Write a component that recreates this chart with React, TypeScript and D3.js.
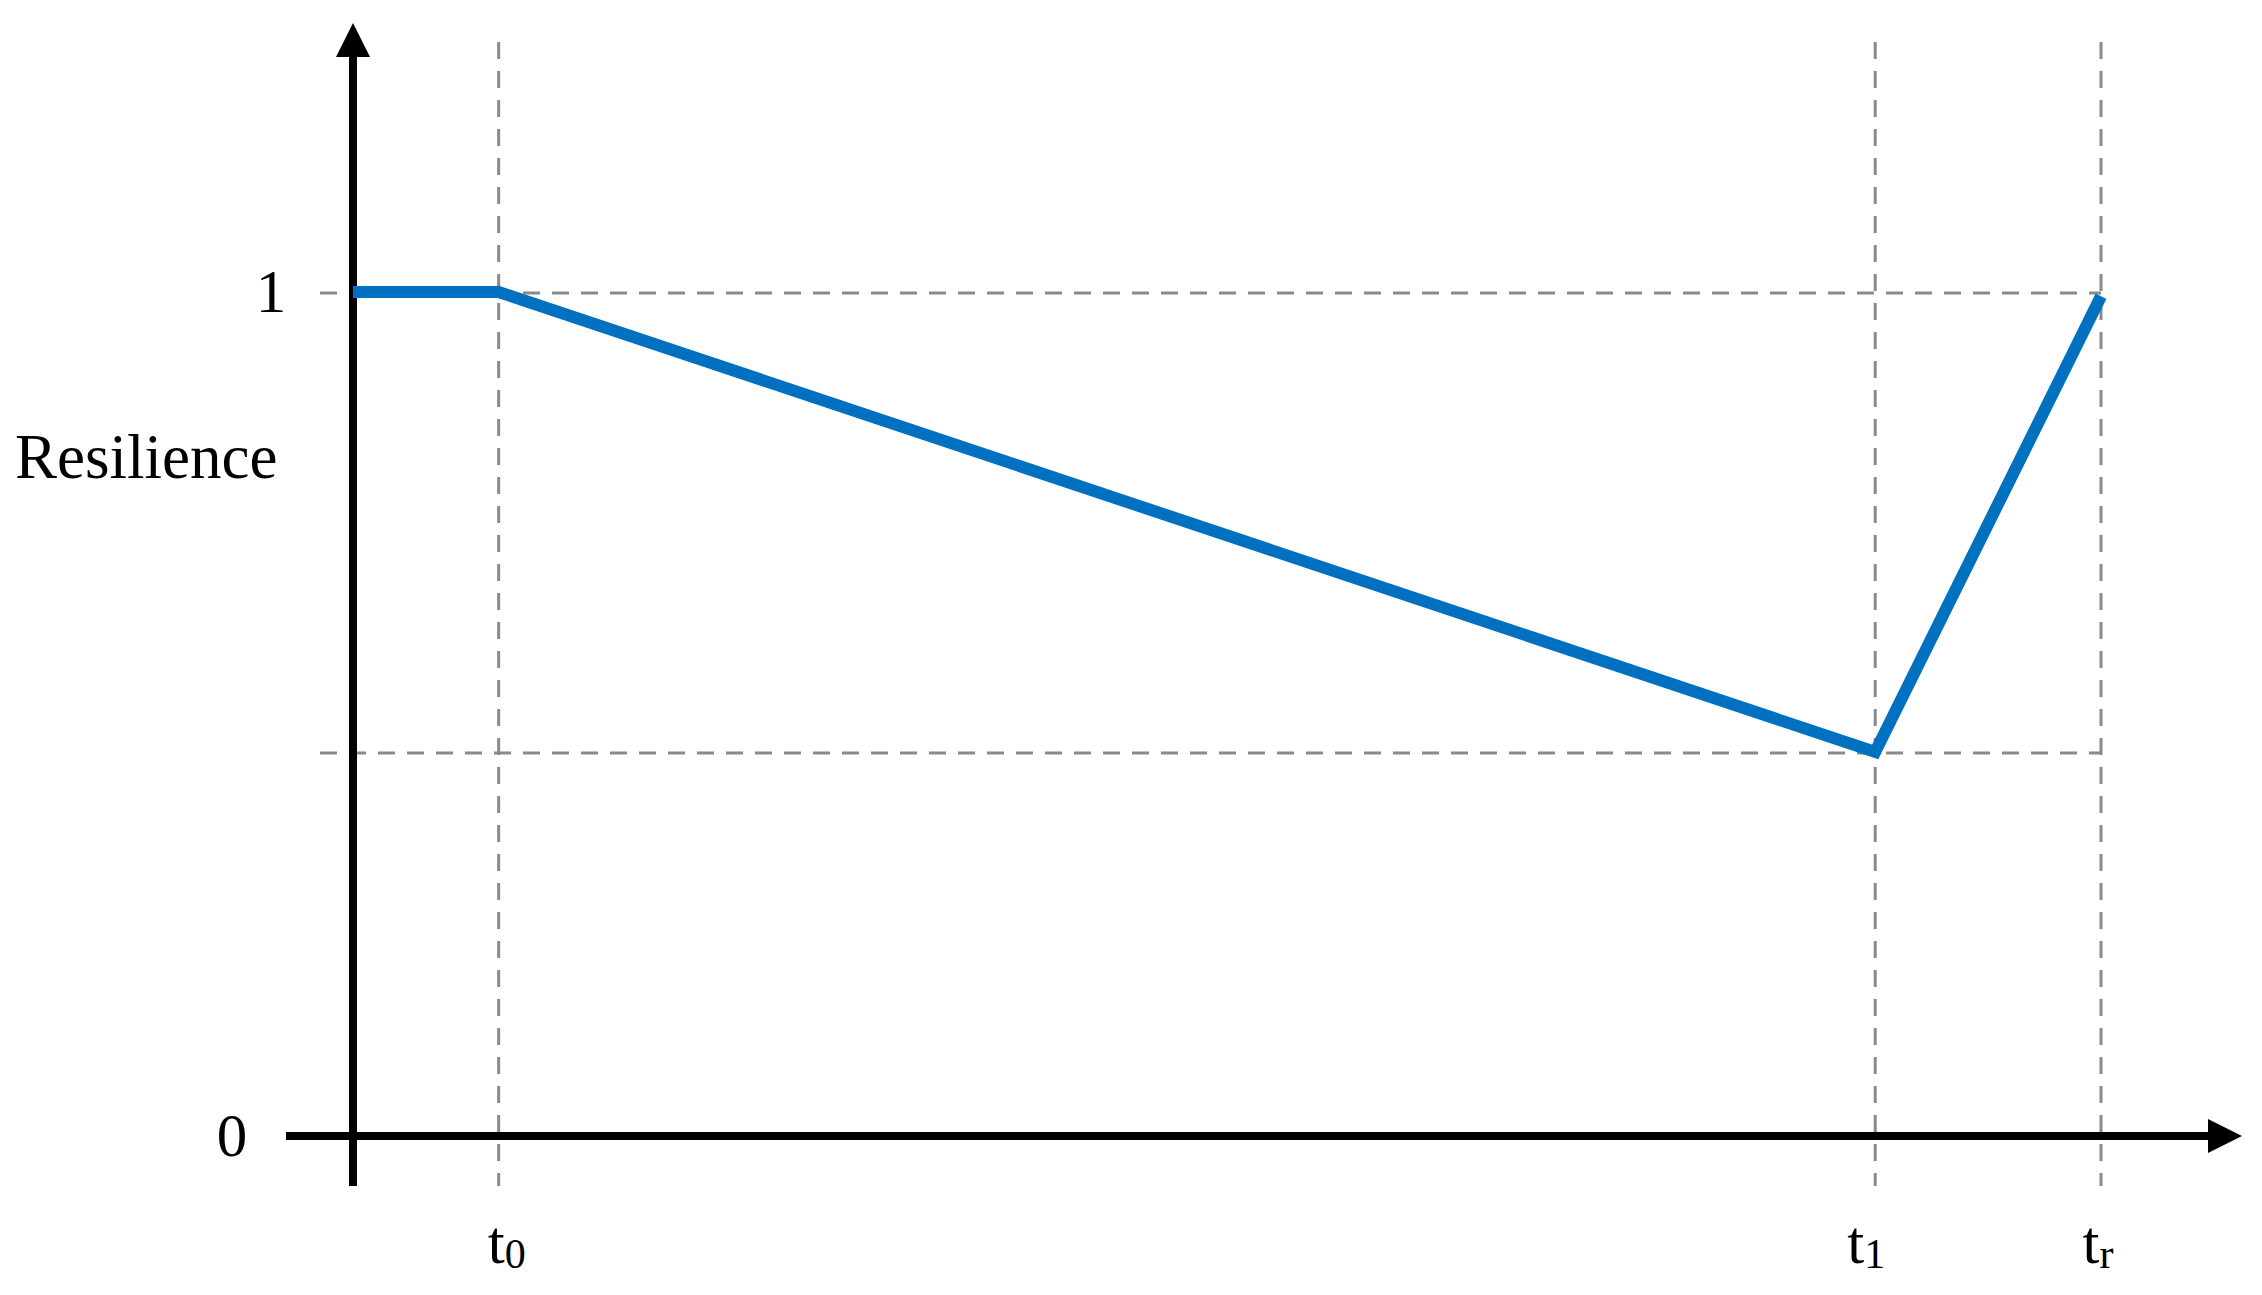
import React from 'react';
import * as d3 from 'd3';

// time points (abstract units) and resilience values
const timeKeys = ['start', 't0', 't1', 'tr'];
const timeValues = [0, 1, 10.45, 12];
const resilienceValues = [1, 1, 0.455, 0.995];

// tick labels
const xTickLabels = [
  { t: 1, main: 't', sub: '0' },
  { t: 10.45, main: 't', sub: '1' },
  { t: 12, main: 't', sub: 'r' },
];
const yTickLabels = [
  { v: 1, text: '1' },
  { v: 0, text: '0' },
];
const refLevels = [1, 0.455];
const yTitle = 'Resilience';

const W = 2262;
const H = 1295;
const FONT = '"Liberation Serif", "Times New Roman", serif';
const BLUE = '#0070c0';
const GRID = '#8a8a8a';

export default function App() {
  const x = d3.scaleLinear().domain([0, 12]).range([353, 2101]);
  const y = d3.scaleLinear().domain([0, 1]).range([1136, 292]);

  const pts = timeValues.map((t, i) => ({ key: timeKeys[i], t, v: resilienceValues[i] }));
  const line = d3
    .line<{ t: number; v: number }>()
    .x((d) => x(d.t))
    .y((d) => y(d.v));

  const x0 = x(0);
  const y0 = y(0);
  const xEnd = x(12);
  const axisLeft = x0 - 67;
  const axisRight = 2242;
  const axisTop = 23;
  const axisBottom = 1186;
  const arrow = 34;
  const half = 17;

  return (
    <svg
      width={W}
      height={H}
      style={{ position: 'absolute', left: 0, top: 0, background: '#fff' }}
    >
      {/* dashed reference lines */}
      {refLevels.map((v) => (
        <line
          key={'h' + v}
          x1={x0 - 33}
          x2={xEnd}
          y1={y(v) + 1}
          y2={y(v) + 1}
          stroke={GRID}
          strokeWidth={3}
          strokeDasharray="17,12"
        />
      ))}
      {xTickLabels.map((d) => (
        <line
          key={'v' + d.sub}
          x1={x(d.t)}
          x2={x(d.t)}
          y1={42}
          y2={axisBottom}
          stroke={GRID}
          strokeWidth={3}
          strokeDasharray="17,12"
        />
      ))}

      {/* axes */}
      <line x1={x0} x2={x0} y1={axisBottom} y2={axisTop + arrow - 2} stroke="#000" strokeWidth={8} />
      <path
        d={`M${x0},${axisTop} L${x0 + half},${axisTop + arrow} L${x0 - half},${axisTop + arrow} Z`}
        fill="#000"
      />
      <line x1={axisLeft} x2={axisRight - arrow + 2} y1={y0} y2={y0} stroke="#000" strokeWidth={8} />
      <path
        d={`M${axisRight},${y0} L${axisRight - arrow},${y0 - half} L${axisRight - arrow},${y0 + half} Z`}
        fill="#000"
      />

      {/* resilience curve */}
      <path d={line(pts) || ''} fill="none" stroke={BLUE} strokeWidth={12} strokeLinejoin="miter" />

      {/* y tick labels */}
      {yTickLabels.map((d) => (
        <text
          key={d.text}
          x={d.v === 1 ? x0 - 82 : x0 - 121}
          y={y(d.v) + 20}
          textAnchor="middle"
          fontFamily={FONT}
          fontSize={61}
          fill="#000"
        >
          {d.text}
        </text>
      ))}

      {/* y title */}
      <text x={15} y={y(0.78)} fontFamily={FONT} fontSize={63} fill="#000">
        {yTitle}
      </text>

      {/* x tick labels */}
      {xTickLabels.map((d) => (
        <text
          key={d.sub}
          x={x(d.t) + (d.sub === '0' ? 8 : d.sub === '1' ? -9 : -3)}
          y={1263}
          textAnchor="middle"
          fontFamily={FONT}
          fontSize={61}
          fill="#000"
        >
          {d.main}
          <tspan fontSize={42} dy={5}>
            {d.sub}
          </tspan>
        </text>
      ))}
    </svg>
  );
}
